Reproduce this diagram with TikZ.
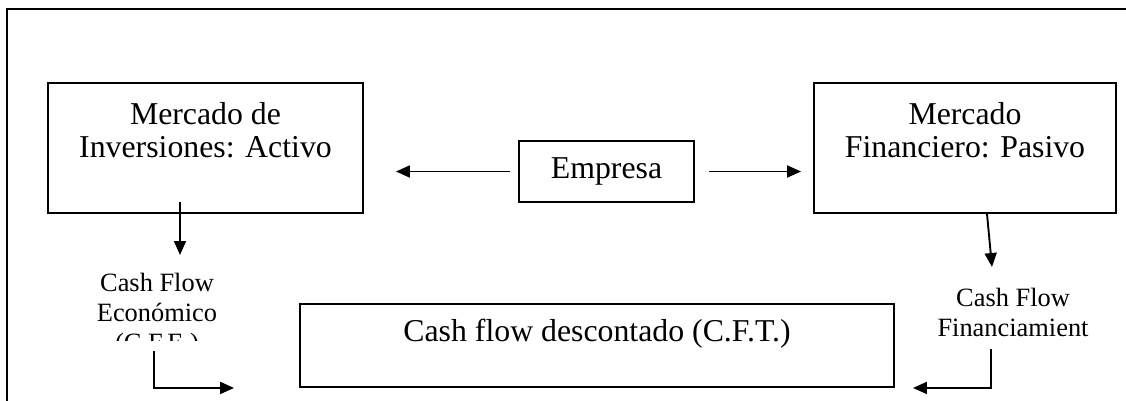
\documentclass[tikz,border=0pt]{standalone}
\usepackage{fontspec}
\setmainfont{Liberation Serif}
\usetikzlibrary{arrows.meta,positioning}
\newcommand{\letragrande}{\fontsize{31.8}{33}\selectfont}
\newcommand{\letrachica}{\fontsize{26.4}{30}\selectfont}
\tikzset{caja/.style={draw,line width=1.9pt,inner sep=0pt,font=\letragrande},
	texto/.style={align=center,inner sep=0pt,font=\letragrande},
	textochico/.style={align=center,inner sep=0pt,font=\letrachica},
	flecha/.style={line width=1.9pt,-{Triangle[length=14pt,width=12pt]}}}

\begin{document}
\begin{tikzpicture}[x=1pt,y=-1pt]
	\useasboundingbox (0,0) rectangle (1126,400);
	\clip (0,0) rectangle (1126,400);
	% marco exterior
	\draw[line width=1.9pt] (7,9) rectangle (1160,440);

	\node[caja,minimum width=315pt,minimum height=130pt] (inv) at (205.5,148) {};
		\node[texto] at ([yshift=-48.5pt]inv.north) {Mercado de\\Inversiones: Activo};
	\node[caja,minimum width=302pt,minimum height=130pt] (fin) at (965,148) {};
		\node[texto] at ([yshift=-48.5pt]fin.north) {Mercado\\Financiero: Pasivo};
	\node[caja,minimum width=175pt,minimum height=61pt] (emp) at (606.5,171.5) {Empresa};
	\node[caja,minimum width=594pt,minimum height=83pt] (dcf) at (597,345.5) {};
		\node[texto] at ([yshift=-31pt]dcf.north) {Cash flow descontado (C.F.T.)};

	\begin{scope}
		\clip (0,0) rectangle (400,340);
		\node[textochico] (cfe) at (157,315) {Cash Flow\\Económico\\(C.F.E.)};
	\end{scope}
	\node[textochico] (cff) at (1013,312) {Cash Flow\\Financiamient};

	\draw[flecha,shorten <=8pt,shorten >=32pt] (emp.west) -- (emp.west -| inv.east);
	\draw[flecha,shorten <=14pt,shorten >=12pt] (emp.east) -- (emp.east -| fin.west);

	\coordinate (cfepunta) at (180,255);
	\draw[flecha,shorten <=-12pt] (cfepunta |- inv.south) -- (cfepunta);
	\coordinate (cffpunta) at (992,267);
	\draw[flecha] ([xshift=22pt]fin.south) -- (cffpunta);

	\coordinate (cfesal) at (154,351);
	\draw[flecha,shorten >=65pt] (cfesal) |- (dcf.south west);
	\coordinate (cffsal) at (991,349);
	\draw[flecha,shorten >=18pt] (cffsal) |- (dcf.south east);
\end{tikzpicture}
\end{document}
